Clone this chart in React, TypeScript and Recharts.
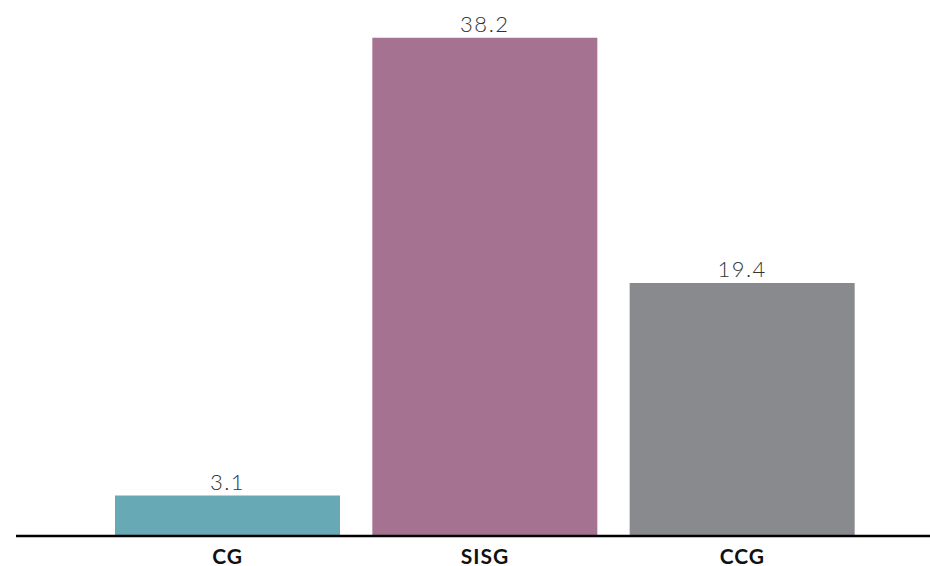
import { BarChart, Bar, XAxis, YAxis, Cell, LabelList } from "recharts";

const categories = ["CG", "SISG", "CCG"];
const values = [3.1, 38.2, 19.4];

const BAR_COLORS = ["#67A9B5", "#A57391", "#898A8E"];
const FONT = "Lato, 'Open Sans', sans-serif";

const data = categories.map((name, i) => ({ name, value: values[i] }));

function CategoryTick(props: any) {
  const { x, y, payload } = props;
  return (
    <text x={x} y={y + 20} textAnchor="middle" fontFamily={FONT} fontSize={21} fontWeight={700} fill="#111" letterSpacing={1}>
      {payload.value}
    </text>
  );
}

export default function App() {
  return (
    <div style={{ width: 930, height: 566, position: "absolute", left: 0, top: 0 }}>
      <style>{`body{margin:0}`}</style>
      <BarChart
        width={930}
        height={566}
        data={data}
        margin={{ top: 14.4, right: 0, bottom: 0, left: 16 }}
      >
        <YAxis hide domain={[0, 40]} />
        <XAxis
          dataKey="name"
          height={30}
          padding={{ left: 83, right: 59 }}
          axisLine={{ stroke: "#000", strokeWidth: 2.5 }}
          tickLine={false}
          tick={<CategoryTick />}
        />
        <Bar dataKey="value" barSize={225} isAnimationActive={false}>
          {data.map((d, i) => (
            <Cell key={d.name} fill={BAR_COLORS[i]} />
          ))}
          <LabelList
            dataKey="value"
            position="top"
            offset={6}
            fill="#333"
            fontFamily={FONT}
            fontSize={22}
            fontWeight={300}
            letterSpacing={1.5}
            formatter={(v: any) => Number(v).toFixed(1)}
          />
        </Bar>
      </BarChart>
    </div>
  );
}
